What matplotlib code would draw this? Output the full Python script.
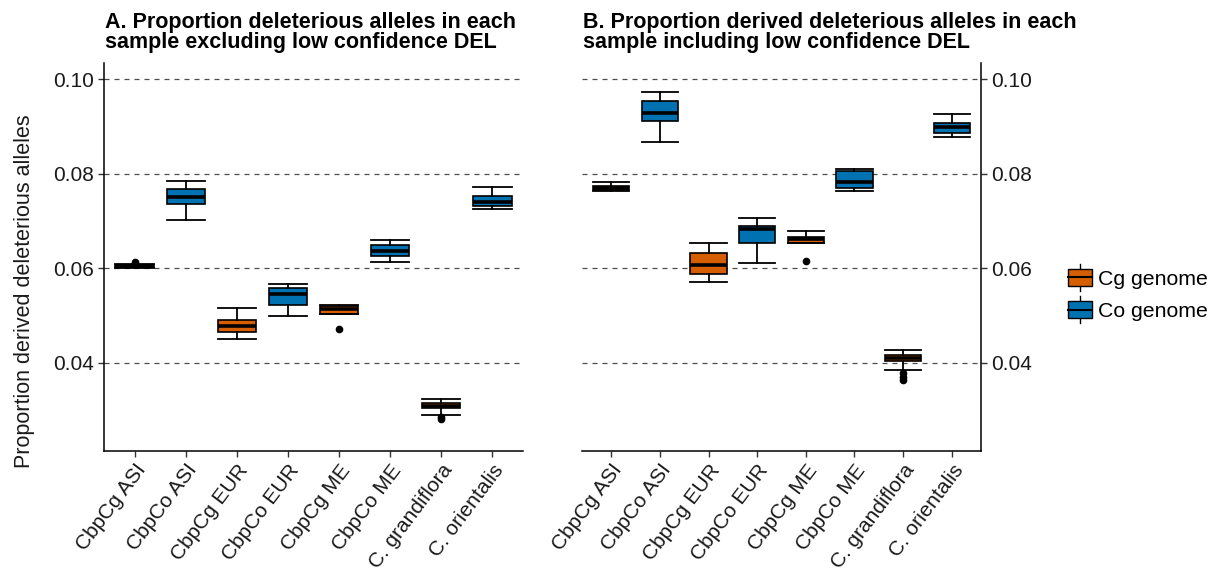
import matplotlib
matplotlib.use("Agg")
import matplotlib.pyplot as plt
from matplotlib.patches import Rectangle, Patch
from matplotlib.lines import Line2D
from matplotlib.legend_handler import HandlerBase

plt.rcParams['font.family'] = ['Liberation Sans', 'DejaVu Sans']

categories = ["CbpCg ASI", "CbpCo ASI", "CbpCg EUR", "CbpCo EUR",
              "CbpCg ME", "CbpCo ME", "C. grandiflora", "C. orientalis"]
genome = ["Cg", "Co", "Cg", "Co", "Cg", "Co", "Cg", "Co"]

# Panel A (excluding low confidence DEL)
a_whislo = [0.0601, 0.0703, 0.0451, 0.0499, 0.0504, 0.0613, 0.0291, 0.0726]
a_q1     = [0.0602, 0.0736, 0.0466, 0.0523, 0.0504, 0.0627, 0.0305, 0.0732]
a_med    = [0.0605, 0.0751, 0.0478, 0.0545, 0.0514, 0.0637, 0.0310, 0.0741]
a_q3     = [0.0608, 0.0767, 0.0491, 0.0559, 0.0521, 0.0650, 0.0315, 0.0752]
a_whishi = [0.0610, 0.0785, 0.0517, 0.0567, 0.0523, 0.0659, 0.0323, 0.0771]
a_fliers = [[0.0614], [], [], [], [0.0472], [], [0.0286, 0.0282], []]

# Panel B (including low confidence DEL)
b_whislo = [0.0764, 0.0867, 0.0571, 0.0612, 0.0654, 0.0763, 0.0385, 0.0877]
b_q1     = [0.0765, 0.0912, 0.0588, 0.0653, 0.0654, 0.0769, 0.0404, 0.0886]
b_med    = [0.0769, 0.0928, 0.0608, 0.0683, 0.0661, 0.0783, 0.0411, 0.0898]
b_q3     = [0.0774, 0.0953, 0.0633, 0.0690, 0.0667, 0.0805, 0.0417, 0.0908]
b_whishi = [0.0783, 0.0972, 0.0653, 0.0706, 0.0680, 0.0809, 0.0428, 0.0927]
b_fliers = [[], [], [], [], [0.0616], [], [0.0379, 0.0370, 0.0363], []]

y_ticks = [0.04, 0.06, 0.08, 0.10]
y_ticklabels = ["0.04", "0.06", "0.08", "0.10"]

colors = {"Cg": "#D55E00", "Co": "#0072B2"}

W, H = 1215, 574
fig = plt.figure(figsize=(W / 100, H / 100), dpi=100)

def px_axes(x0, x1, y0, y1):
    return fig.add_axes([x0 / W, 1 - y1 / H, (x1 - x0) / W, (y1 - y0) / H])

axA = px_axes(104, 523, 63, 451)
axB = px_axes(582, 981, 63, 451)

FS = 15

def draw(ax, whislo, q1, med, q3, whishi, fliers, side):
    stats = []
    for i in range(len(categories)):
        stats.append(dict(whislo=whislo[i], q1=q1[i], med=med[i], q3=q3[i],
                          whishi=whishi[i], fliers=fliers[i], label=categories[i]))
    pos = list(range(1, len(categories) + 1))
    bp = ax.bxp(stats, positions=pos, widths=0.75, capwidths=0.75,
                patch_artist=True, showfliers=True,
                boxprops=dict(edgecolor="black", linewidth=1.2),
                medianprops=dict(color="black", linewidth=2.6, solid_capstyle="butt"),
                whiskerprops=dict(color="black", linewidth=1.3),
                capprops=dict(color="black", linewidth=1.3),
                flierprops=dict(marker="o", markerfacecolor="black",
                                markeredgecolor="black", markersize=4.5,
                                linestyle="none"),
                zorder=3)
    for patch, g in zip(bp["boxes"], genome):
        patch.set_facecolor(colors[g])
    ax.set_xlim(0.4, 8.6)
    ax.set_ylim(0.0214, 0.1034)
    ax.set_yticks(y_ticks)
    ax.set_yticklabels(y_ticklabels, fontsize=FS, color="#1a1a1a")
    ax.set_xticks(pos)
    ax.set_xticklabels(categories, rotation=53, ha="right", va="top",
                       rotation_mode="anchor", fontsize=FS, color="#1a1a1a")
    ax.grid(axis="y", color="#4d4d4d", linestyle=(0, (4, 4)), linewidth=0.9, zorder=0)
    ax.set_axisbelow(True)
    ax.tick_params(axis="both", length=4, width=1, color="#333333", pad=3)
    ax.spines["top"].set_visible(False)
    if side == "left":
        ax.spines["right"].set_visible(False)
    else:
        ax.spines["left"].set_visible(False)
        ax.yaxis.tick_right()
    for s in ax.spines.values():
        s.set_linewidth(1.1)
        s.set_color("black")

draw(axA, a_whislo, a_q1, a_med, a_q3, a_whishi, a_fliers, "left")
draw(axB, b_whislo, b_q1, b_med, b_q3, b_whishi, b_fliers, "right")

TFS = 15.5
fig.text(105 / W, 1 - 48 / H,
         "A. Proportion deleterious alleles in each\nsample excluding low confidence DEL",
         ha="left", va="baseline", fontsize=TFS, fontweight="bold", linespacing=0.94)
fig.text(583 / W, 1 - 48 / H,
         "B. Proportion derived deleterious alleles in each\nsample including low confidence DEL",
         ha="left", va="baseline", fontsize=TFS, fontweight="bold", linespacing=0.94)

fig.text(25 / W, 1 - 291 / H, "Proportion derived deleterious alleles",
         rotation=90, ha="center", va="center", fontsize=15.5, color="#1a1a1a")


class BoxHandler(HandlerBase):
    def create_artists(self, legend, orig_handle, xdescent, ydescent,
                       width, height, fontsize, trans):
        x0, y0 = -xdescent, -ydescent
        fc = orig_handle.get_facecolor()
        whisk = Line2D([x0 + width / 2] * 2, [y0 - 0.3 * height, y0 + 1.3 * height],
                       color="black", lw=1.0, transform=trans)
        rect = Rectangle((x0, y0), width, height, facecolor=fc,
                         edgecolor="black", lw=1.0, transform=trans)
        med = Line2D([x0, x0 + width], [y0 + height / 2] * 2, color="black",
                     lw=1.5, transform=trans)
        return [whisk, rect, med]


handles = [Patch(facecolor=colors["Cg"]), Patch(facecolor=colors["Co"])]
fig.legend(handles, ["Cg genome", "Co genome"], handler_map={Patch: BoxHandler()},
           loc="center left", bbox_to_anchor=(1068 / W, 1 - 295 / H),
           frameon=False, fontsize=15.3, handlelength=1.15, handleheight=0.85,
           handletextpad=0.25, labelspacing=0.6, borderaxespad=0, borderpad=0)

fig.savefig("out.png", dpi=100)
